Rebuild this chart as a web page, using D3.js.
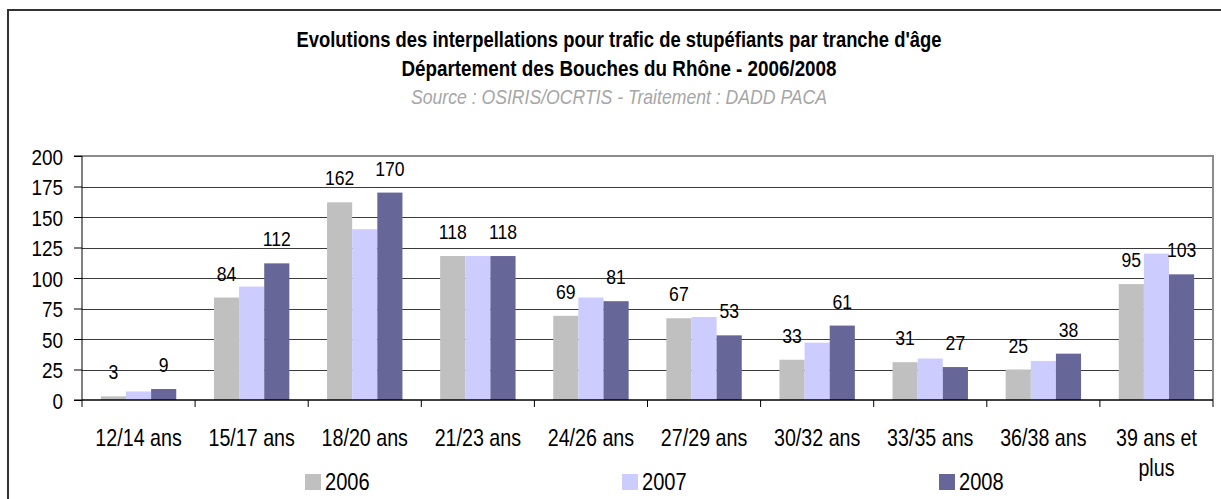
<!DOCTYPE html>
<html>
<head>
<meta charset="utf-8">
<script src="https://cdn.jsdelivr.net/npm/d3@7"></script>
<style>
    body { margin: 0; background: #fff; }
    svg { display: block; }
    text { font-family: "Liberation Sans", Arial, sans-serif; fill: #000; }
</style>
</head>
<body>
<div id="chart"></div>
<script>
const categories = ['12/14 ans', '15/17 ans', '18/20 ans', '21/23 ans', '24/26 ans',
    '27/29 ans', '30/32 ans', '33/35 ans', '36/38 ans', '39 ans et plus'];
const years = ['2006', '2007', '2008'];
const values2006 = [3, 84, 162, 118, 69, 67, 33, 31, 25, 95];
const values2007 = [7, 93, 140, 118, 84, 68, 47, 34, 32, 120];
const values2008 = [9, 112, 170, 118, 81, 53, 61, 27, 38, 103];
const yTicks = [0, 25, 50, 75, 100, 125, 150, 175, 200];
const labelledYears = ['2006', '2008'];

const colors = { '2006': '#c0c0c0', '2007': '#ccccff', '2008': '#666699' };

const width = 1221;
const height = 499;
const plot = { left: 82, right: 1213, top: 156, bottom: 400 };

// the original uses a narrow face; squeeze Liberation Sans horizontally
const narrow = 0.82;
const squeeze = (x, y, sx) => `translate(${x},${y}) scale(${sx},1)`;

const series = years.map((y, i) => ({
    year: y,
    values: [values2006, values2007, values2008][i]
}));

const svg = d3.select('#chart')
    .append('svg')
    .attr('width', width)
    .attr('height', height);

// outer frame (runs off the right / bottom edges)
svg.append('rect')
    .attr('x', 8)
    .attr('y', 10)
    .attr('width', 1240)
    .attr('height', 520)
    .attr('fill', 'none')
    .attr('stroke', '#333')
    .attr('stroke-width', 2);

// titles
const titleX = 619;
svg.append('text')
    .attr('transform', squeeze(titleX, 47, 0.86))
    .attr('text-anchor', 'middle')
    .style('font-weight', 'bold')
    .style('font-size', '21.4px')
    .text("Evolutions des interpellations pour trafic de stupéfiants par tranche d'âge");
svg.append('text')
    .attr('transform', squeeze(titleX, 76, 0.86))
    .attr('text-anchor', 'middle')
    .style('font-weight', 'bold')
    .style('font-size', '21.9px')
    .text('Département des Bouches du Rhône - 2006/2008');
svg.append('text')
    .attr('transform', squeeze(titleX, 104, 0.86))
    .attr('text-anchor', 'middle')
    .style('font-style', 'italic')
    .style('font-size', '20.5px')
    .style('fill', '#a6a6a6')
    .text('Source : OSIRIS/OCRTIS - Traitement : DADD PACA');

// scales
const x0 = d3.scaleBand()
    .domain(categories)
    .range([plot.left, plot.right])
    .padding(0);

const x1 = d3.scaleBand()
    .domain(years)
    .range([0, x0.bandwidth()])
    .paddingInner(0)
    .paddingOuter(0.75);

const yScale = d3.scaleLinear()
    .domain([0, 200])
    .range([plot.bottom, plot.top]);

// gridlines
svg.append('g')
    .selectAll('line')
    .data(yTicks.filter(t => t > 0 && t < 200))
    .enter()
    .append('line')
    .attr('x1', plot.left)
    .attr('x2', plot.right)
    .attr('y1', d => Math.round(yScale(d)) + 0.5)
    .attr('y2', d => Math.round(yScale(d)) + 0.5)
    .attr('stroke', '#3a3a3a')
    .attr('stroke-width', 1);

// plot area border top / right (grey)
svg.append('path')
    .attr('d', `M${plot.left},${yScale(200)}H${plot.right}V${plot.bottom}`)
    .attr('fill', 'none')
    .attr('stroke', '#8c8c8c')
    .attr('stroke-width', 2);

// bars
const groups = svg.append('g')
    .selectAll('g')
    .data(series)
    .enter()
    .append('g')
    .attr('fill', d => colors[d.year]);

groups.selectAll('rect')
    .data(d => d.values.map((v, i) => ({ year: d.year, cat: categories[i], value: v })))
    .enter()
    .append('rect')
    .attr('x', d => x0(d.cat) + x1(d.year))
    .attr('y', d => yScale(d.value))
    .attr('width', x1.bandwidth())
    .attr('height', d => yScale(0) - yScale(d.value));

// data labels (2006 and 2008 only)
groups.filter(d => labelledYears.includes(d.year))
    .selectAll('text')
    .data(d => d.values.map((v, i) => ({ year: d.year, cat: categories[i], value: v })))
    .enter()
    .append('text')
    .attr('transform', d => squeeze(x0(d.cat) + x1(d.year) + x1.bandwidth() / 2, yScale(d.value) - 17, 0.86))
    .attr('text-anchor', 'middle')
    .style('font-size', '20.5px')
    .style('fill', '#000')
    .text(d => d.value);

// y axis
const yAxis = d3.axisLeft(yScale)
    .tickValues(yTicks)
    .tickSize(8)
    .tickPadding(11)
    .tickFormat(d3.format('d'));

const yAxisG = svg.append('g')
    .attr('transform', `translate(${plot.left}, 0)`)
    .call(yAxis);
yAxisG.select('.domain').attr('stroke', '#000').attr('d', `M-8,${plot.top}H0V${plot.bottom}H-8`);
yAxisG.selectAll('.tick line').attr('stroke', '#000');
yAxisG.selectAll('.tick text')
    .attr('x', null)
    .attr('dy', null)
    .attr('transform', `translate(-19, 8) scale(0.86,1)`)
    .style('font-size', '22px');

// x axis: ticks at category boundaries, labels centered
const boundaries = categories.map(c => x0(c)).concat([plot.right]);
svg.append('line')
    .attr('x1', plot.left).attr('x2', plot.right)
    .attr('y1', plot.bottom).attr('y2', plot.bottom)
    .attr('stroke', '#000').attr('stroke-width', 1.5);
svg.append('g')
    .selectAll('line')
    .data(boundaries)
    .enter()
    .append('line')
    .attr('x1', d => d).attr('x2', d => d)
    .attr('y1', plot.bottom).attr('y2', plot.bottom + 7)
    .attr('stroke', '#000');

const xLabels = svg.append('g')
    .selectAll('text')
    .data(categories)
    .enter()
    .append('text')
    .attr('transform', d => squeeze(x0(d) + x0.bandwidth() / 2, 446, narrow))
    .attr('text-anchor', 'middle')
    .style('font-size', '24px');

xLabels.each(function(d) {
    const lines = d === '39 ans et plus' ? ['39 ans et', 'plus'] : [d];
    d3.select(this).selectAll('tspan')
        .data(lines)
        .enter()
        .append('tspan')
        .attr('x', 0)
        .attr('dy', (l, i) => i === 0 ? 0 : 30)
        .text(l => l);
});

// legend
const legendX = d3.scalePoint()
    .domain(years)
    .range([305, 939]);

const legend = svg.append('g')
    .selectAll('g')
    .data(years)
    .enter()
    .append('g')
    .attr('transform', d => `translate(${legendX(d)}, 474)`);

legend.append('rect')
    .attr('width', 16)
    .attr('height', 16)
    .attr('fill', d => colors[d]);

legend.append('text')
    .attr('transform', squeeze(20, 16, narrow))
    .style('font-size', '24.5px')
    .text(d => d);
</script>
</body>
</html>
